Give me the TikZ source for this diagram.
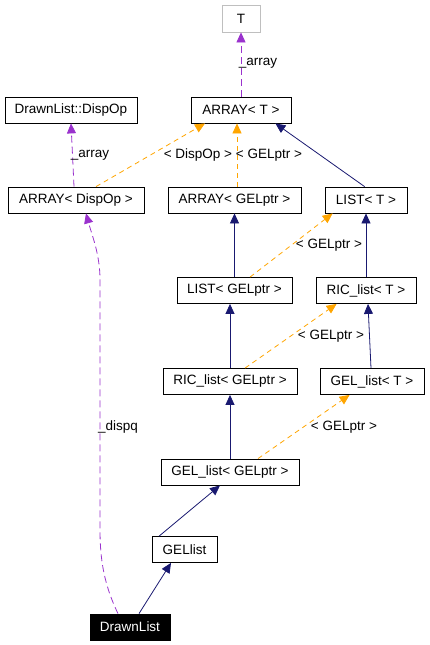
\documentclass[tikz,border=0pt]{standalone}
\usepackage{fontspec}
\setmainfont{Liberation Sans}
\usepackage{xcolor}
\usetikzlibrary{arrows.meta}
\definecolor{inhblue}{HTML}{191970}
\definecolor{usepurple}{HTML}{9A32CD}
\definecolor{tmplorange}{HTML}{FFA500}
\definecolor{extgray}{HTML}{BFBFBF}

\begin{document}
\begin{tikzpicture}[x=1pt, y=-1pt,
  font=\fontsize{13.5}{15}\selectfont,
  cls/.style={draw=black, line width=0.8pt, fill=white, inner sep=2pt,
              minimum height=26pt, minimum width=#1},
  cls/.default=80pt,
  lbl/.style={inner sep=1pt},
  inh/.style={-{Triangle[length=10pt, width=9pt]}, inhblue, line width=0.8pt},
  usage/.style={-{Triangle[length=10pt, width=9pt]}, usepurple, line width=0.8pt, dash pattern=on 7pt off 4pt},
  tmpl/.style={-{Triangle[length=10pt, width=9pt]}, tmplorange, line width=0.8pt, dash pattern=on 5pt off 4pt}]
\useasboundingbox (0,0) rectangle (429,645);
\node[cls=38pt, draw=extgray, minimum height=27pt] (T) at (241,18.5) {T};
\node[cls=132pt] (dispop) at (71,110)    {DrawnList::DispOp};
\node[cls=100pt] (arrT)   at (241,110)   {ARRAY< T >};
\node[cls=136pt] (arrD)   at (76,200)    {ARRAY< DispOp >};
\node[cls=133pt] (arrG)   at (234.5,200) {ARRAY< GELptr >};
\node[cls=82pt]  (listT)  at (366,200)   {LIST< T >};
\node[cls=115pt] (listG)  at (234.5,290.5) {LIST< GELptr >};
\node[cls=100pt] (ricT)   at (366,290.5) {RIC\_list< T >};
\node[cls=134pt] (ricG)   at (230,381.5) {RIC\_list< GELptr >};
\node[cls=104pt] (gelT)   at (372,381.5) {GEL\_list< T >};
\node[cls=138pt] (gelG)   at (230,472)   {GEL\_list< GELptr >};
\node[cls=65pt]  (gellist) at (184.5,549.5) {GELlist};
\node[cls=80pt, fill=black, text=white] (drawn) at (130,627) {DrawnList};
% inheritance
\foreach \a/\b in {listG/arrG, ricT/listT, ricG/listG, gelG/ricG}
  \draw[inh] (\a.north) -- (\a.north |- \b.south);
\draw[inh] ([xshift=-1pt]gelT.north) -- ([xshift=2pt]ricT.south);
\draw[inh] ([xshift=40pt]listT.north west) -- ([xshift=-16pt]arrT.south east);
\draw[inh] ([xshift=7.5pt]gellist.north west) -- ([xshift=-10pt]gelG.south);
\draw[inh] ([xshift=9pt]drawn.north) -- ([xshift=-13.5pt]gellist.south);
% members
\draw[usage] (arrT.north) -- (T.south);
\draw[usage] ([xshift=-2pt]arrD.north) -- (dispop.south);
\draw[usage] ([xshift=-12pt]drawn.north) .. controls +(-14,-29) and +(0,30) .. ++(-18,-84)
  -- ++(0,-250) .. controls +(0,-25) and +(6,22) .. ([xshift=10pt]arrD.south);
% template instances
\draw[tmpl] ([xshift=20pt]arrD.north) -- ([xshift=-36pt]arrT.south);
\draw[tmpl] ([xshift=2.5pt]arrG.north) -- ([xshift=-4pt]arrT.south);
\draw[tmpl] ([xshift=15.5pt]listG.north) -- ([xshift=8pt]listT.south west);
\draw[tmpl] ([xshift=15pt]ricG.north) -- ([xshift=21pt]ricT.south west);
\draw[tmpl] ([xshift=28pt]gelG.north) -- ([xshift=30pt]gelT.south west);
% labels
\node[lbl] (lT)     at (258,63)  {\_array};
\node[lbl] (lDisp)  at (90,155)  {\_array};
\node[lbl] (lArrD)  at (198,155) {< DispOp >};
\node[lbl] (lArrG)  at (269,155) {< GELptr >};
\node[lbl] (lListG) at (329,245) {< GELptr >};
\node[lbl] (lRicG)  at (331,336) {< GELptr >};
\node[lbl] (lGelG)  at (344,427) {< GELptr >};
\node[lbl] (ldispq) at (118,427) {\_dispq};
\end{tikzpicture}
\end{document}
